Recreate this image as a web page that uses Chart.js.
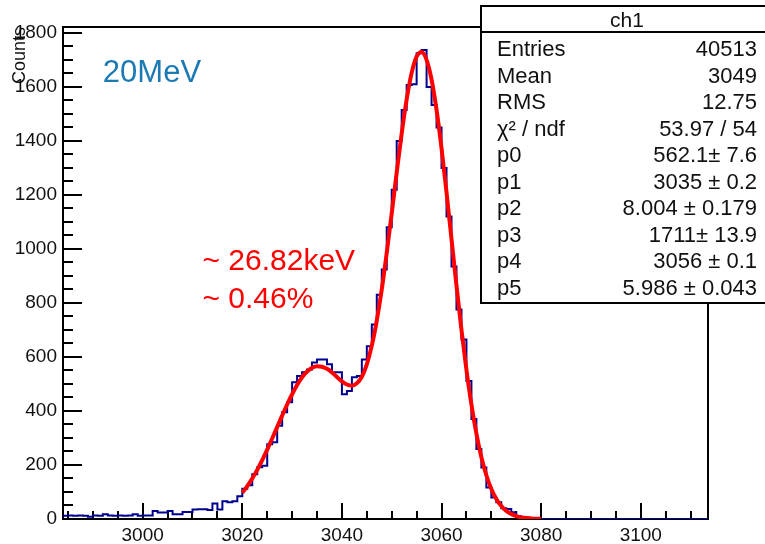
<!DOCTYPE html>
<html>
<head>
<meta charset="utf-8">
<script src="https://cdn.jsdelivr.net/npm/chart.js@4.4.1/dist/chart.umd.min.js"></script>
<style>
  html, body { margin: 0; padding: 0; background: #fff; }
  canvas { display: block; }
</style>
</head>
<body>
<canvas id="chart" width="765" height="544"></canvas>
<script>
// histogram: 1-unit bins starting at 2984
const binLow = 2984;
const binWidth = 1;
const counts = [
    12, 13, 12, 13, 12, 8, 13, 12, 18, 13,
    12, 13, 12, 13, 18, 12, 13, 13, 30, 24,
    24, 30, 18, 18, 26, 26, 35, 36, 36, 33,
    57, 35, 66, 62, 66, 84, 112, 125, 166, 192,
    197, 277, 284, 345, 395, 432, 506, 530, 543, 554,
    580, 591, 591, 573, 543, 543, 462, 474, 525, 530,
    591, 640, 720, 830, 924, 1080, 1219, 1400, 1515, 1607,
    1610, 1725, 1737, 1600, 1533, 1450, 1300, 1120, 935, 776,
    665, 511, 370, 259, 191, 117, 80, 62, 40, 37,
    25, 10, 4, 1, 0, 0, 0, 0, 0, 0,
    0, 0, 0, 0, 0, 0, 0, 0, 0, 0,
    0, 0, 0, 0, 0, 0, 0, 0, 0, 0,
    0, 0, 0, 0, 0, 0, 0, 0, 0, 0
];

// red fit curve, read every 1 unit from 3020 to 3080
const fitStart = 3020;
const fitValues = [
    97, 122, 150, 182, 218, 257, 298, 341, 383, 424,
    462, 496, 525, 546, 560, 566, 564, 556, 543, 526,
    510, 498, 494, 503, 527, 573, 642, 735, 850, 986,
    1132, 1283, 1428, 1554, 1652, 1712, 1729, 1700, 1627, 1515,
    1373, 1210, 1037, 865, 701, 553, 424, 316, 229, 162,
    111, 74, 48, 30, 19, 11, 6, 4, 2, 1, 1
];

const xTicks = [3000, 3020, 3040, 3060, 3080, 3100];
const yTicks = [0, 200, 400, 600, 800, 1000, 1200, 1400, 1600, 1800];

const statsTitle = 'ch1';
const statsNames = ['Entries', 'Mean', 'RMS', 'χ² / ndf', 'p0', 'p1', 'p2', 'p3', 'p4', 'p5'];
const statsValues = ['40513', '3049', '12.75', '53.97 / 54', '562.1± 7.6', '3035 ± 0.2',
    '8.004 ± 0.179', '1711± 13.9', '3056 ± 0.1', '5.986 ± 0.043'];

const energyLabel = '20MeV';
const resolutionLines = ['~ 26.82keV', '~ 0.46%'];

// each value holds from its low edge to the next edge
const histPoints = [{ x: binLow, y: counts[0] }];
counts.forEach((c, i) => histPoints.push({ x: binLow + (i + 1) * binWidth, y: c }));
const fitPoints = fitValues.map((v, i) => ({ x: fitStart + i, y: v }));

const FONT = 'Liberation Sans, Arial, sans-serif';

const rootFrame = {
    id: 'rootFrame',
    beforeDatasetsDraw(chart) {
        const { ctx, chartArea: a, scales: { x, y } } = chart;
        ctx.save();
        ctx.strokeStyle = '#000';
        ctx.lineWidth = 2;
        ctx.strokeRect(a.left, a.top, a.right - a.left, a.bottom - a.top);
        ctx.beginPath();
        for (let v = 0; v <= y.max; v += 50) {
            const py = Math.round(y.getPixelForValue(v));
            const len = v % 200 === 0 ? 19 : 10;
            ctx.moveTo(a.left, py);
            ctx.lineTo(a.left + len, py);
        }
        for (let v = 2985; v <= x.max; v += 5) {
            const px = Math.round(x.getPixelForValue(v));
            const len = v % 20 === 0 ? 16 : 8;
            ctx.moveTo(px, a.bottom);
            ctx.lineTo(px, a.bottom - len);
        }
        ctx.stroke();
        ctx.restore();
    },
    afterDraw(chart) {
        const { ctx, scales: { x, y } } = chart;
        ctx.save();
        ctx.textBaseline = 'alphabetic';
        ctx.textAlign = 'left';

        ctx.fillStyle = '#1b79b4';
        ctx.font = '31px ' + FONT;
        ctx.fillText(energyLabel, x.getPixelForValue(2992), y.getPixelForValue(1617));

        ctx.fillStyle = '#ff0000';
        ctx.font = '30px ' + FONT;
        ctx.fillText(resolutionLines[0], x.getPixelForValue(3012), y.getPixelForValue(922));
        ctx.fillText(resolutionLines[1], x.getPixelForValue(3012), y.getPixelForValue(782));

        // stats box
        const bx = 481, by = 6, bw = 290, bh = 297;
        ctx.fillStyle = '#fff';
        ctx.fillRect(bx, by, bw, bh);
        ctx.strokeStyle = '#000';
        ctx.lineWidth = 2;
        ctx.strokeRect(bx, by, bw, bh);
        ctx.beginPath();
        ctx.moveTo(bx, 32);
        ctx.lineTo(bx + bw, 32);
        ctx.stroke();

        ctx.fillStyle = '#111';
        ctx.font = '21px ' + FONT;
        ctx.textAlign = 'center';
        ctx.fillText(statsTitle, 627, 27);

        ctx.font = '22px ' + FONT;
        statsNames.forEach((name, i) => {
            const base = 56 + i * 26.5;
            ctx.textAlign = 'left';
            ctx.fillText(name, 497, base);
            ctx.textAlign = 'right';
            ctx.fillText(statsValues[i], 757, base);
        });
        ctx.restore();
    }
};

const ctx = document.getElementById('chart').getContext('2d');
new Chart(ctx, {
    type: 'line',
    data: {
        datasets: [{
            label: 'fit',
            data: fitPoints,
            borderColor: '#ff0000',
            borderWidth: 4,
            pointRadius: 0,
            cubicInterpolationMode: 'monotone',
            fill: false
        }, {
            label: 'ch1',
            data: histPoints,
            borderColor: '#000090',
            borderWidth: 2,
            pointRadius: 0,
            stepped: 'after',
            fill: false
        }]
    },
    options: {
        responsive: false,
        animation: false,
        devicePixelRatio: 1,
        layout: { padding: { top: 27, right: 57, left: 0, bottom: 0 } },
        plugins: {
            legend: { display: false },
            tooltip: { enabled: false }
        },
        scales: {
            x: {
                type: 'linear',
                min: 2984,
                max: 3113.5,
                grid: { display: false, drawTicks: false },
                border: { display: false },
                ticks: {
                    font: { family: FONT, size: 19 },
                    color: '#111',
                    padding: 5,
                    maxRotation: 0,
                    autoSkip: false,
                    callback: v => String(v)
                },
                afterBuildTicks: s => { s.ticks = xTicks.map(v => ({ value: v })); },
                afterFit: s => { s.height = 25; }
            },
            y: {
                type: 'linear',
                min: 0,
                max: 1822,
                grid: { display: false, drawTicks: false },
                border: { display: false },
                ticks: {
                    font: { family: FONT, size: 19 },
                    color: '#111',
                    padding: 6,
                    autoSkip: false,
                    callback: v => String(v)
                },
                title: {
                    display: true,
                    text: 'Counts',
                    align: 'end',
                    color: '#111',
                    font: { family: FONT, size: 18 },
                    padding: { top: 9, bottom: 0 }
                },
                afterBuildTicks: s => { s.ticks = yTicks.map(v => ({ value: v })); },
                afterFit: s => { s.width = 63; }
            }
        }
    },
    plugins: [rootFrame]
});
</script>
</body>
</html>
